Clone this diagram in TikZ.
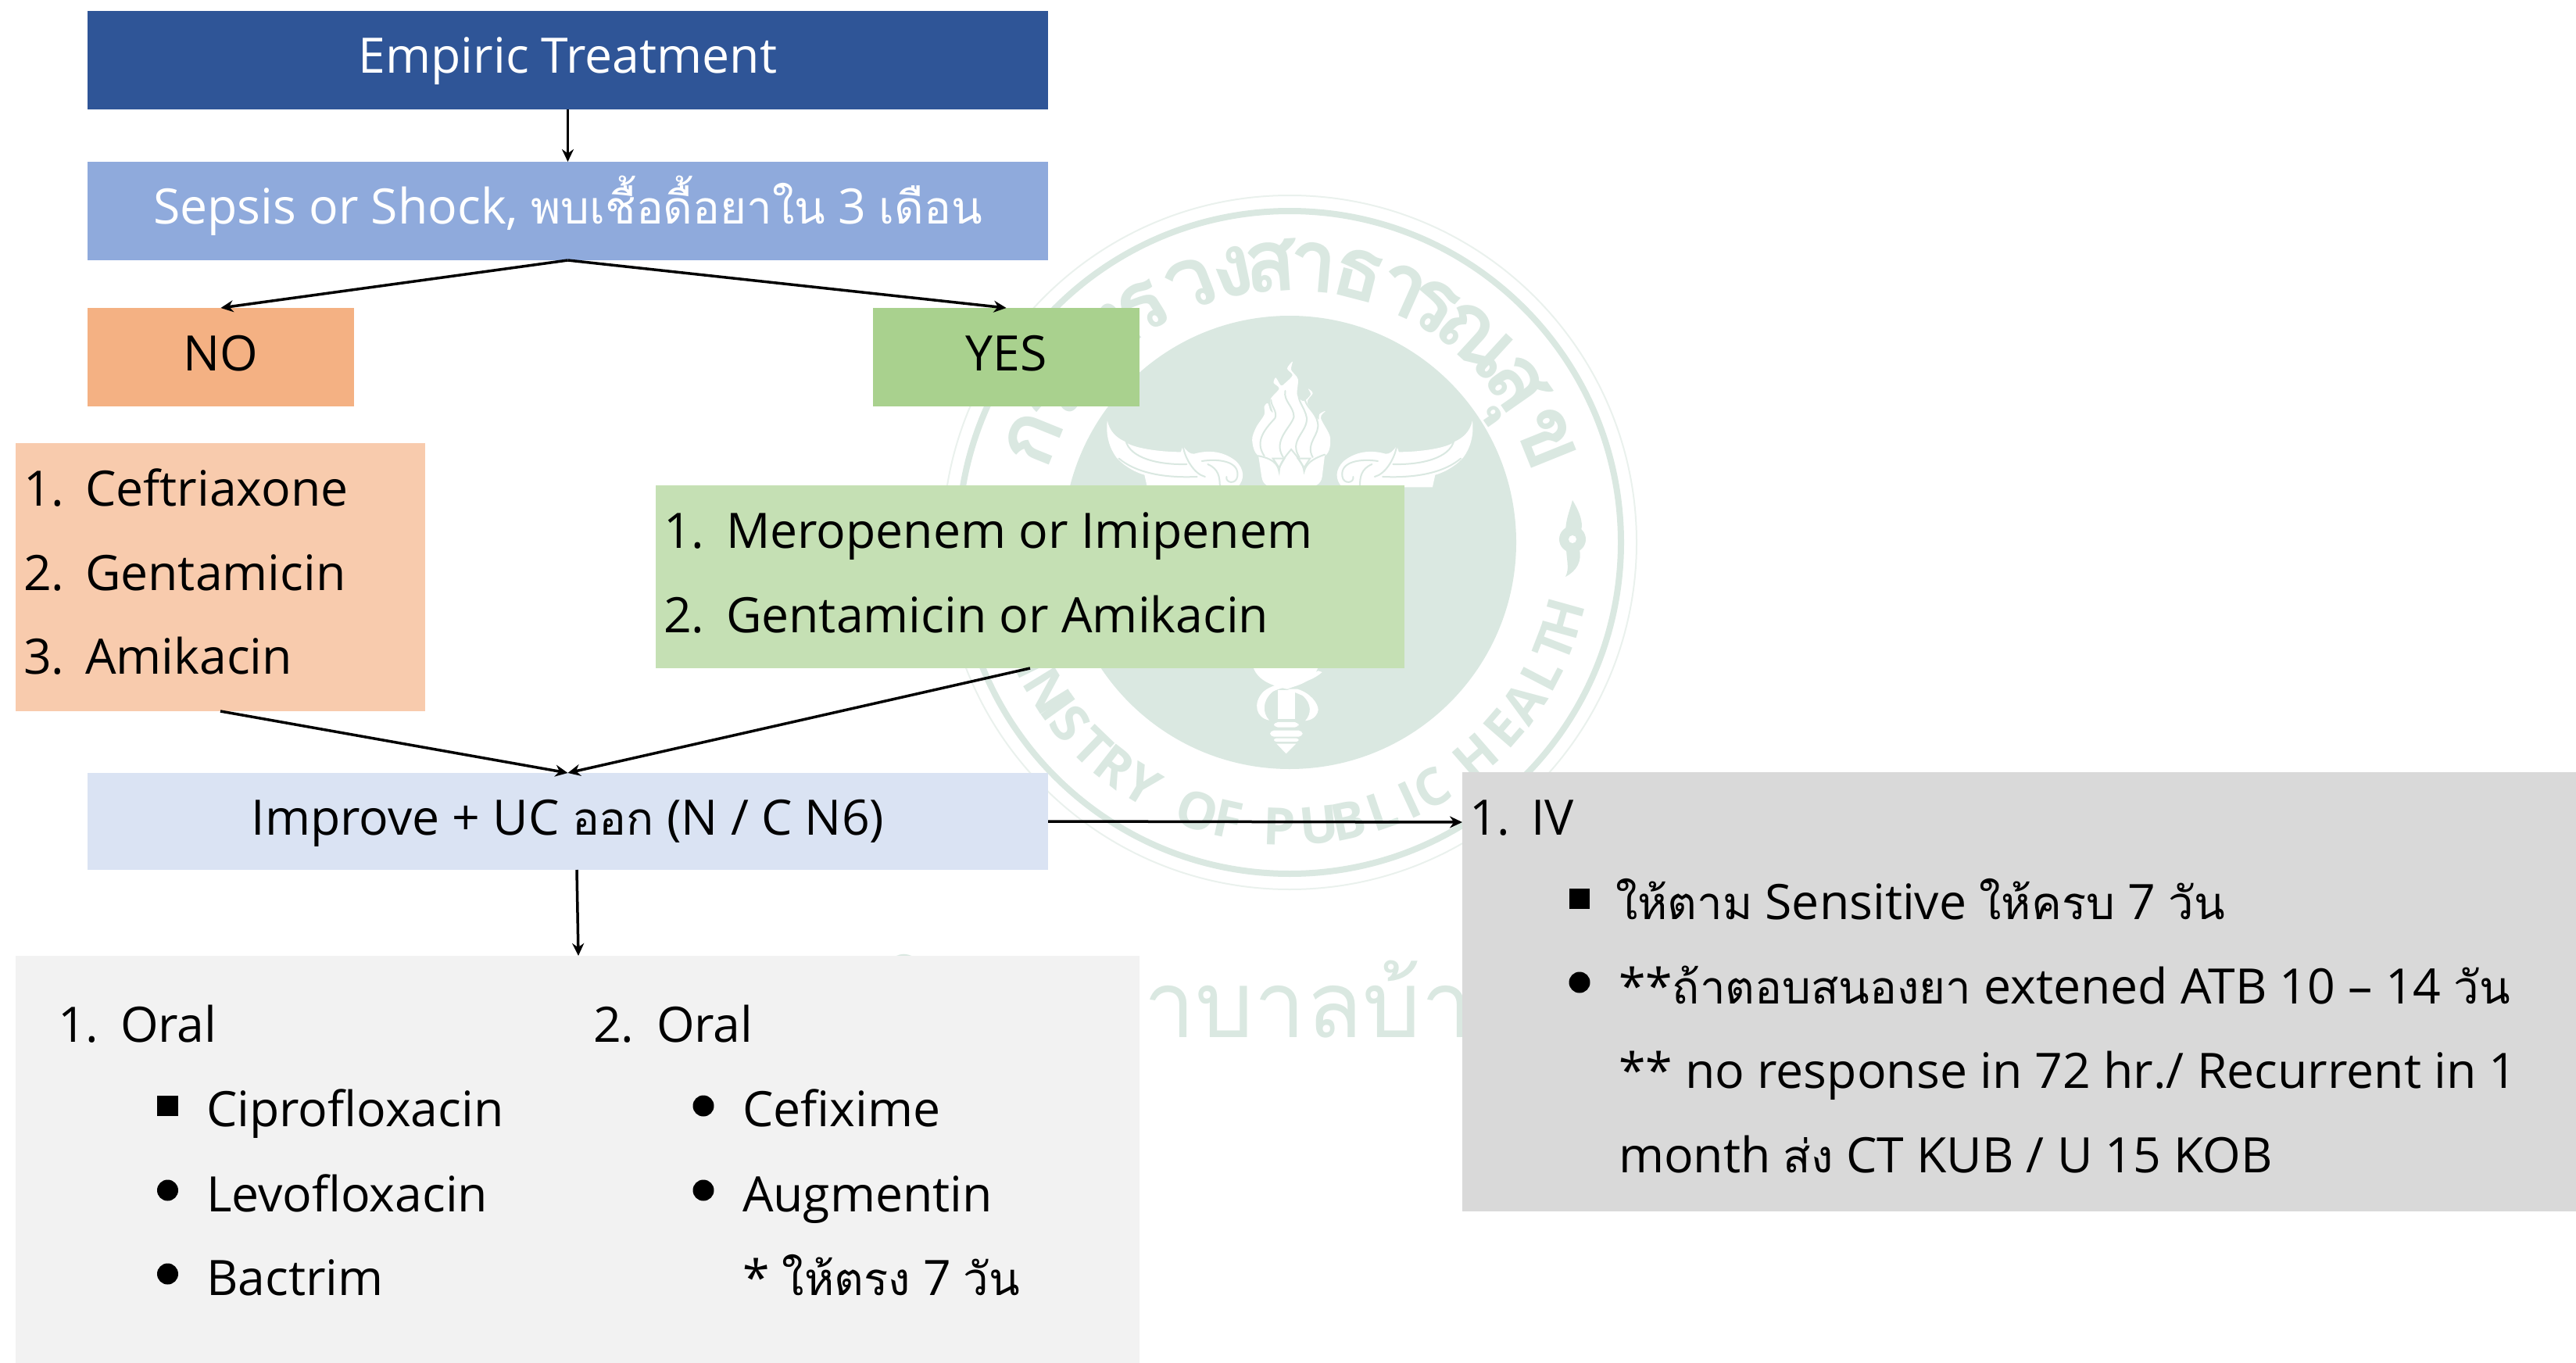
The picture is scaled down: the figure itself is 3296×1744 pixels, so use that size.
\documentclass[tikz,border=0pt]{standalone}
\usepackage{fontspec}
\usetikzlibrary{arrows.meta}
\setmainfont{Open Sans}
\newfontfamily\thaif[Script=Thai,Scale=0.93]{Loma}
\newfontfamily\thaiwm[Script=Thai]{Loma}
\newcommand{\thtxt}[1]{{\thaif #1}}
\definecolor{wm}{HTML}{DAE8E1}
\definecolor{wmthin}{HTML}{EAF1ED}
\definecolor{cEmp}{HTML}{2F5597}
\definecolor{cSep}{HTML}{8FAADC}
\definecolor{cNo}{HTML}{F4B183}
\definecolor{cYes}{HTML}{A9D18E}
\definecolor{cLL}{HTML}{F8CBAD}
\definecolor{cGL}{HTML}{C5E0B4}
\definecolor{cImp}{HTML}{DAE3F3}
\definecolor{cOral}{HTML}{F2F2F2}
\definecolor{cGray}{HTML}{D9D9D9}
\tikzset{
  panel/.style={rectangle,inner sep=0pt,outer sep=0pt,draw=none,text height=42pt,text depth=8pt,font=\fontsize{62.5}{72}\selectfont},
  entry/.style={anchor=base west,inner sep=0pt,outer sep=0pt,yshift=-2pt,font=\fontsize{62.5}{72}\selectfont,text=black},
  flow/.style={line width=3.5pt,-{Stealth[length=16pt,width=15pt]},black},
  wmth/.style={anchor=base,inner sep=0pt,text=wm,font=\thaiwm\bfseries\fontsize{112}{130}\selectfont},
  wmen/.style={anchor=base,inner sep=0pt,text=wm,font=\bfseries\fontsize{66}{80}\selectfont},
  wmline/.style={draw=wm,line width=2pt,line cap=round,fill=none}
}
\begin{document}
\begin{tikzpicture}[x=1pt,y=-1pt]
\useasboundingbox (0,0) rectangle (3296,1744);
% --- watermark ---
\fill[wm] (1650,694) circle (290);
\draw[wm,line width=8pt] (1650,694) circle (424);
\draw[wmthin,line width=2pt] (1650,694) circle (444);
\foreach \ch/\ang [count=\i] in {ก/158,ร/149,ะ/140,ท/131,ร/122,ว/111,ง/102,ส/94,า/85,ธ/75.5,า/66,ร/59,ณ/47.5,สุ/35,ข/22}
  \node[wmth,rotate=\ang-90] (wt\i) at ({1650+322*cos(\ang)},{694-322*sin(\ang)}) {\ch};
\foreach \ch/\ang [count=\i] in {M/200,I/206,N/211.6,I/215.5,S/219.5,T/226,R/232,Y/238.7,O/251,F/257.5,P/268,U/276,B/282,L/289,I/295,C/300,H/311,E/319,A/325.6,L/332.5,T/338.8,H/344.4}
  \node[wmen,rotate=\ang+90] (we\i) at ({1650+387*cos(\ang)},{694-387*sin(\ang)}) {\ch};
% flower ornament
\begin{scope}[wm]
\fill (2012,640) .. controls (2024,660) and (2026,672) .. (2022,682) -- (2003,682) .. controls (2003,665) and (2008,655) .. (2012,640) -- cycle;
\fill (2012,690) circle (17);
\fill (2004,703) .. controls (2005,720) and (2008,728) .. (2003,738) .. controls (2018,730) and (2024,718) .. (2021,703) -- cycle;
\fill[white] (2012,690) circle (5);
\end{scope}
% torch and horns
\begin{scope}[shift={(1380,440)},x=0.3444pt,y=-0.3333pt]
\fill[white] plot[smooth cycle,tension=0.5] coordinates {(670,430)(645,370)(660,320)(690,272)(690,240)(703,228)(712,255)(722,262)(712,215)(745,172)(725,150)(733,130)(752,160)(768,150)(795,120)(775,95)(795,68)(790,100)(815,135)(812,195)(835,220)(862,195)(853,172)(870,190)(850,225)(890,290)(895,270)(917,258)(900,285)(935,360)(915,430)(790,450)};
\fill[white] (668,428) -- (915,425) -- (905,510) .. controls (900,540) and (880,548) .. (850,550) -- (730,550) .. controls (700,548) and (685,540) .. (680,510) -- cycle;
\draw[wmline] (690,430) .. controls (650,370) and (700,320) .. (730,285) .. controls (740,260) and (715,240) .. (715,215);
\draw[wmline] (760,435) .. controls (720,370) and (790,320) .. (800,280) .. controls (800,240) and (760,220) .. (768,180);
\draw[wmline] (820,435) .. controls (780,370) and (850,340) .. (848,285) .. controls (840,240) and (810,220) .. (818,180);
\draw[wmline] (870,435) .. controls (840,380) and (900,350) .. (888,300) .. controls (880,260) and (840,240) .. (840,205);
\draw[wmline] (668,430) .. controls (720,440) and (740,460) .. (745,490) .. controls (745,460) and (770,430) .. (790,405) .. controls (810,430) and (835,460) .. (838,490) .. controls (845,460) and (870,440) .. (915,425);
\draw[wmline] (722,440) -- (745,475) -- (765,440) -- cycle;
\draw[wmline] (815,440) -- (838,475) -- (860,440) -- cycle;
\foreach \m in {1,-1}{
\begin{scope}[xshift={\m==1?0:1570*0.3444pt},xscale=\m]
\fill[white] (107,295) .. controls (115,335) and (140,360) .. (172,375) .. controls (200,400) and (300,415) .. (380,415) -- (388,392) .. controls (400,410) and (415,425) .. (430,422) .. controls (470,410) and (530,405) .. (585,450) .. controls (615,480) and (620,520) .. (590,550) -- (255,550) -- (245,503) .. controls (200,490) and (160,460) .. (140,435) .. controls (115,400) and (100,350) .. (107,295) -- cycle;
\draw[wmline] (175,370) .. controls (190,440) and (300,465) .. (402,462);
\draw[wmline] (388,392) .. controls (395,440) and (430,500) .. (470,510);
\draw[wmline] (150,440) .. controls (220,500) and (330,515) .. (440,510);
\draw[wmline] (458,450) .. controls (520,440) and (600,450) .. (590,510) .. controls (585,540) and (545,535) .. (550,510);
\draw[wmline] (480,462) .. controls (520,480) and (525,510) .. (525,550);
\end{scope}}
\end{scope}
\begin{scope}[shift={(1500,840)},x=0.3333pt,y=-0.3333pt]
\fill[white] (310,40) -- (560,40) .. controls (540,100) and (480,110) .. (440,125) .. controls (400,115) and (330,100) .. (310,40) -- cycle;
\fill[white] (560,55) .. controls (470,100) and (380,100) .. (345,140) .. controls (310,180) and (320,235) .. (372,245) .. controls (345,215) and (345,170) .. (385,135) .. controls (430,110) and (520,110) .. (575,60) -- cycle;
\fill[white] (480,125) .. controls (530,140) and (560,180) .. (560,205) .. controls (555,235) and (530,245) .. (510,247) .. controls (535,220) and (535,180) .. (500,150) -- (440,125) -- cycle;
\fill[white] (405,130) -- (470,130) -- (470,240) -- (405,240) -- cycle;
\fill[white,rounded corners=5pt] (390,252) rectangle (485,272);
\fill[white,rounded corners=5pt] (375,284) rectangle (500,308);
\fill[white,rounded corners=3pt] (390,314) rectangle (485,327);
\fill[white] (400,335) -- (475,335) -- (437,373) -- cycle;
\end{scope}
\node[anchor=base west,inner sep=0pt,text=wm,font=\thaiwm\fontsize{118}{140}\selectfont] (wmname) at (1132,1327) {โรงพยาบาลบ้าน};
% --- boxes ---
\node[panel,fill=cEmp,text=white,minimum width=1229pt,minimum height=126pt] (emp) at (726.5,77) {Empiric Treatment};
\node[panel,fill=cSep,text=white,minimum width=1229pt,minimum height=126pt] (sep) at (726.5,270) {Sepsis or Shock, \thtxt{พบเชื้อดื้อยาใน} 3 \thtxt{เดือน}};
\node[panel,fill=cNo,minimum width=341pt,minimum height=126pt] (no) at (282.5,457) {NO};
\node[panel,fill=cYes,minimum width=341pt,minimum height=126pt] (yes) at (1287.5,457) {YES};
\node[panel,fill=cLL,minimum width=524pt,minimum height=343pt] (ll) at (282,738.5) {};
\node[panel,fill=cGL,minimum width=958pt,minimum height=234pt] (gl) at (1318,738) {};
\node[panel,fill=cImp,minimum width=1229pt,minimum height=124pt] (imp) at (726.5,1051) {Improve + UC \thtxt{ออก} (N / C N6)};
\node[panel,fill=cOral,minimum width=1438pt,minimum height=521pt] (oral) at (739,1483.5) {};
\node[panel,fill=cGray,minimum width=1425pt,minimum height=562pt] (gray) at (2583.5,1269) {};
% --- left list ---
\node[entry] (l1n) at (30,645) {1.};
\node[entry] (l1) at (109,645) {Ceftriaxone};
\node[entry] (l2n) at (30,753) {2.};
\node[entry] (l2) at (109,753) {Gentamicin};
\node[entry] (l3n) at (30,860) {3.};
\node[entry] (l3) at (109,860) {Amikacin};
% --- green list ---
\node[entry] (g1n) at (849,699) {1.};
\node[entry] (g1) at (929,699) {Meropenem or Imipenem};
\node[entry] (g2n) at (849,807) {2.};
\node[entry] (g2) at (929,807) {Gentamicin or Amikacin};
% --- oral ---
\node[entry] (o1n) at (74,1331) {1.};
\node[entry] (o1) at (154,1331) {Oral};
\node[entry] (o2n) at (759,1331) {2.};
\node[entry] (o2) at (840,1331) {Oral};
\fill (201,1402) rectangle (228,1428);
\node[entry] (oa) at (264,1439) {Ciprofloxacin};
\fill (214.5,1523) circle (13.5);
\node[entry] (ob) at (264,1548) {Levofloxacin};
\fill (214.5,1630) circle (13.5);
\node[entry] (oc) at (264,1655) {Bactrim};
\fill (900,1415) circle (13.5);
\node[entry] (od) at (950,1439) {Cefixime};
\fill (900,1523) circle (13.5);
\node[entry] (oe) at (950,1548) {Augmentin};
\node[entry] (of) at (950,1655) {* \thtxt{ให้ตรง} 7 \thtxt{วัน}};
% --- IV ---
\node[entry] (i1n) at (1880,1066) {1.};
\node[entry] (i1) at (1959,1066) {IV};
\fill (2008,1137) rectangle (2034,1163);
\node[entry] (ia) at (2067,1174) {\thtxt{ให้ตาม} Sensitive \thtxt{ให้ครบ} 7 \thtxt{วัน}};
\fill (2021,1257) circle (13.5);
\node[entry] (ib) at (2071,1282) {**\thtxt{ถ้าตอบสนองยา} extened ATB 10 – 14 \thtxt{วัน}};
\node[entry] (ic) at (2071,1390) {** no response in 72 hr./ Recurrent in 1};
\node[entry] (id) at (2071,1498) {month \thtxt{ส่ง} CT KUB / U 15 KOB};
% --- connectors ---
\coordinate (grayin) at (1871,1052);
\coordinate (impout) at (738,1113);
\coordinate (oralin) at (740,1223);
\draw[flow] (emp.south) -- (sep.north);
\draw[flow] (sep.south) -- (no.north);
\draw[flow] (sep.south) -- (yes.north);
\draw[flow] (ll.south) -- (imp.north);
\draw[flow] (gl.south) -- (imp.north);
\draw[flow] (imp.east) -- (grayin);
\draw[flow] (impout) -- (oralin);
\end{tikzpicture}
\end{document}
